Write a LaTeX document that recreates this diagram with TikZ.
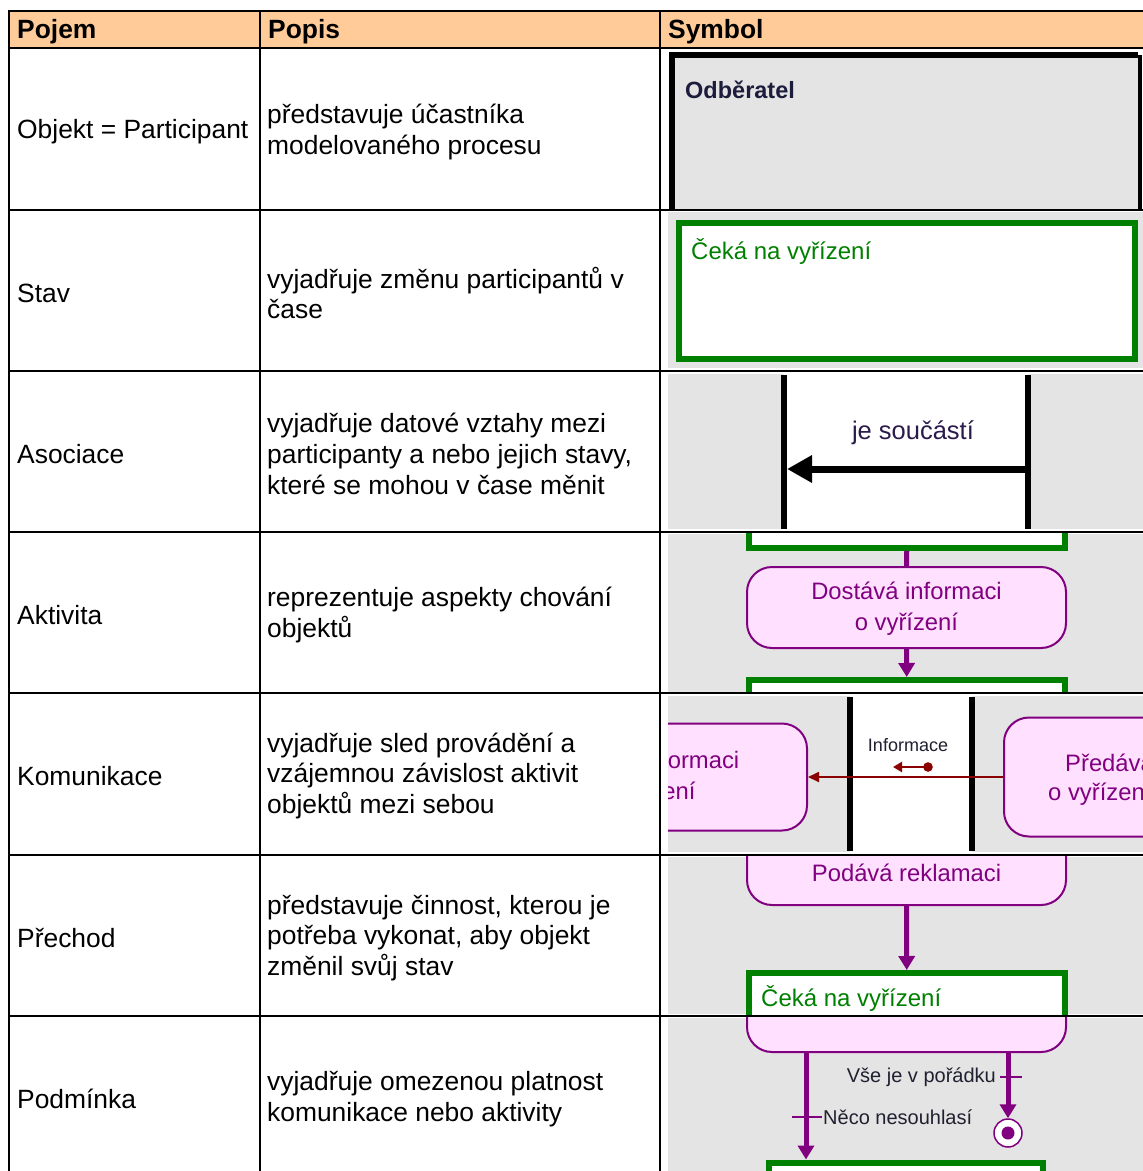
\documentclass[tikz,border=0pt]{standalone}
\usepackage{fontspec}
\setmainfont{Liberation Sans}
\usetikzlibrary{arrows.meta}

\definecolor{hdrorange}{HTML}{FFCC99}
\definecolor{lanegray}{HTML}{E4E4E4}
\definecolor{stgreen}{HTML}{008000}
\definecolor{actpurple}{HTML}{800080}
\definecolor{actpink}{HTML}{FFE1FF}
\definecolor{msgred}{HTML}{8B0000}
\definecolor{navytext}{HTML}{1C1C3C}
\definecolor{assoctext}{HTML}{2B1B4B}
\definecolor{guardtext}{HTML}{202030}

\newcommand\setfs[2]{\fontsize{#1}{#2}\selectfont}

\begin{document}
\begin{tikzpicture}[x=1pt,y=-1pt,
  grid/.style={line width=2pt, line cap=rect},
  headtxt/.style={anchor=west, inner sep=0pt, font=\setfs{26.4}{30}\bfseries},
  termtxt/.style={anchor=west, inner sep=0pt, font=\setfs{26.4}{30}},
  desctxt/.style={anchor=west, inner sep=0pt, align=left, font=\setfs{26.4}{30.8}},
  stbox/.style={draw=stgreen, line width=6pt, fill=white, rectangle, inner sep=0pt},
  acttxt/.style={text=actpurple, font=\setfs{23.8}{31}, align=center, inner sep=0pt},
  actbox/.style={draw=actpurple, line width=2pt, fill=actpink, rectangle,
    rounded corners=25pt, inner sep=0pt, minimum width=319pt},
  flow/.style={draw=actpurple, line width=5pt, -{Triangle[length=14pt,width=16pt]}},
  msg/.style={draw=msgred, line width=1.8pt, -{Triangle[length=11pt,width=10pt]}},
  lifeline/.style={line width=5.5pt},
  guardtick/.style={draw=actpurple, line width=2pt},
  guardlbl/.style={text=guardtext, inner sep=0pt, font=\setfs{20}{23}},
  sttxt/.style={anchor=west, inner sep=0pt, text=stgreen, font=\setfs{24}{27}},
]
\useasboundingbox (0,0) rectangle (1143,1171);
\fill[white] (0,0) rectangle (1143,1171);

% header band
\fill[hdrorange] (9,11) rectangle (1143,48);

% ---------- symbol column ----------
% participant (swimlane header)
\begin{scope}
  \clip (662,49) rectangle (1143,209);
  \fill[lanegray] (675,58) rectangle (1138,215);
  \draw[line width=6.5pt] (672,215) -- (672,55) -- (1138,55);
  \draw[line width=4pt] (1139.5,55) -- (1139.5,215);
  \node[anchor=west, inner sep=0pt, text=navytext, font=\setfs{23.5}{26}\bfseries] (lanename) at (685,90) {Odběratel};
\end{scope}

% state
\begin{scope}
  \clip (662,211) rectangle (1143,370);
  \fill[lanegray] (668,212) rectangle (1143,368);
  \node[stbox, minimum width=456.5pt, minimum height=136pt] (stA) at (906.75,290.5) {};
  \node[sttxt] (stAtxt) at (691,251) {Čeká na vyřízení};
\end{scope}

% association
\begin{scope}
  \clip (662,372) rectangle (1143,531);
  \fill[lanegray] (668,374) rectangle (1143,529);
  \fill[white] (784,374) rectangle (1028,529);
  \coordinate (llAtop) at (784,375); \coordinate (llAbot) at (784,529);
  \coordinate (llBtop) at (1028,375); \coordinate (llBbot) at (1028,529);
  \draw[lifeline] (llAtop) -- (llAbot);
  \draw[lifeline] (llBtop) -- (llBbot);
  \coordinate (asFrom) at (1028,469);
  \coordinate (asTo) at (787,469);
  \draw[line width=7pt, -{Triangle[length=25pt,width=26pt]}] (asFrom) -- (asTo);
  \node[inner sep=0pt, text=assoctext, font=\setfs{25.5}{28}] (aslbl) at (913,433) {je součástí};
\end{scope}

% activity
\begin{scope}
  \clip (662,533) rectangle (1143,692);
  \fill[lanegray] (668,534) rectangle (1143,692);
  \node[stbox, minimum width=315.5pt, minimum height=96pt] (stB) at (906.75,500) {};
  \node[actbox, minimum height=81pt] (actA) at (906.5,607.5) {};
  \node[acttxt] (actAtxt) at (906.5,609) {Dostává informaci\\o vyřízení};
  \node[stbox, minimum width=315.5pt, minimum height=100pt] (stC) at (906.75,730) {};
  \draw[flow, -] (stB.south) -- (actA.north);
  \draw[flow] (actA.south) -- (stC.north);
\end{scope}

% communication
\begin{scope}
  \clip (668,694) rectangle (1143,854);
  \fill[lanegray] (668,696) rectangle (1143,852);
  \fill[white] (850,696) rectangle (972,852);
  \coordinate (llCtop) at (850,697); \coordinate (llCbot) at (850,851);
  \coordinate (llDtop) at (972,697); \coordinate (llDbot) at (972,851);
  \draw[lifeline] (llCtop) -- (llCbot);
  \draw[lifeline] (llDtop) -- (llDbot);
  \node[actbox, minimum height=107pt] (actB) at (647.5,777) {};
  \node[acttxt] (actBtxt) at (644,778) {Dostává informaci\\o vyřízení};
  \node[actbox, minimum height=119pt] (actC) at (1163.5,777) {};
  \node[acttxt, anchor=west] (actCtxt1) at (1065,763) {Předává};
  \node[acttxt, anchor=west] (actCtxt2) at (1048,794) {o vyřízení};
  \draw[msg] (actC.west) -- (actB.east);
  \node[inner sep=0pt, text=guardtext, font=\setfs{18}{21}] (msglbl) at (908,745) {Informace};
  \coordinate (icoL) at (893,767);
  \coordinate (icoR) at (928,767);
  \draw[msgred, line width=2.2pt, -{Triangle[length=9pt,width=10pt]}] (icoR) -- (icoL);
  \fill[msgred] (icoR) circle (4.8pt);
\end{scope}

% transition
\begin{scope}
  \clip (662,856) rectangle (1143,1015);
  \fill[lanegray] (668,857) rectangle (1143,1014);
  \node[actbox, minimum height=100pt] (actD) at (906.5,855) {};
  \node[acttxt] (actDtxt) at (906.5,873) {Podává reklamaci};
  \node[stbox, minimum width=315.5pt, minimum height=100pt] (stD) at (906.75,1023) {};
  \node[sttxt] (stDtxt) at (761,998) {Čeká na vyřízení};
  \draw[flow] (actD.south) -- (stD.north);
\end{scope}

% condition
\begin{scope}
  \clip (662,1017) rectangle (1143,1171);
  \fill[lanegray] (668,1018) rectangle (1143,1171);
  \node[actbox, minimum height=100pt] (actE) at (906.5,1002) {};
  \node[stbox, minimum width=274pt, minimum height=100pt] (stE) at (906,1212.5) {};
  \node[circle, draw=actpurple, line width=1.5pt, fill=white, minimum size=28pt, inner sep=0pt] (final) at (1008,1133) {};
  \fill[actpurple] (final.center) circle (6.5pt);
  \coordinate (gL) at (806,1117);
  \coordinate (gR) at (1008,1077);
  \draw[flow] (actE.south -| gL) -- (stE.north -| gL);
  \draw[flow] (actE.south -| gR) -- (final.north);
  \draw[guardtick] ([xshift=-14pt]gL) -- ([xshift=16pt]gL);
  \draw[guardtick] ([xshift=-8pt]gR) -- ([xshift=14pt]gR);
  \node[guardlbl, anchor=east] (okLbl) at (996,1077) {Vše je v pořádku};
  \node[guardlbl, anchor=west] (noLbl) at (823,1117) {Něco nesouhlasí};
\end{scope}

% ---------- table grid ----------
\foreach \yy in {11,48,210,371,532,693,855,1016}
  \draw[grid] (9,\yy) -- (1143,\yy);
\foreach \xx in {9,260,660}
  \draw[grid] (\xx,11) -- (\xx,1171);

% header texts
\node[headtxt] (hPojem) at (17,31.5) {Pojem};
\node[headtxt] (hPopis) at (268,31.5) {Popis};
\node[headtxt] (hSymbol) at (668,31.5) {Symbol};

% term column
\node[termtxt] (t1) at (17,132) {Objekt = Participant};
\node[termtxt] (t2) at (17,293) {Stav};
\node[termtxt] (t3) at (17,454) {Asociace};
\node[termtxt] (t4) at (17,615) {Aktivita};
\node[termtxt] (t5) at (17,776) {Komunikace};
\node[termtxt] (t6) at (17,938) {Přechod};
\node[termtxt] (t7) at (17,1099) {Podmínka};

% description column
\node[desctxt] (d1) at (267,132) {představuje účastníka\\modelovaného procesu};
\node[desctxt] (d2) at (267,293) {vyjadřuje změnu participantů v\\čase};
\node[desctxt] (d3) at (267,454) {vyjadřuje datové vztahy mezi\\participanty a nebo jejich stavy,\\které se mohou v čase měnit};
\node[desctxt] (d4) at (267,615) {reprezentuje aspekty chování\\objektů};
\node[desctxt] (d5) at (267,776) {vyjadřuje sled provádění a\\vzájemnou závislost aktivit\\objektů mezi sebou};
\node[desctxt] (d6) at (267,938) {představuje činnost, kterou je\\potřeba vykonat, aby objekt\\změnil svůj stav};
\node[desctxt] (d7) at (267,1099) {vyjadřuje omezenou platnost\\komunikace nebo aktivity};
\end{tikzpicture}
\end{document}
